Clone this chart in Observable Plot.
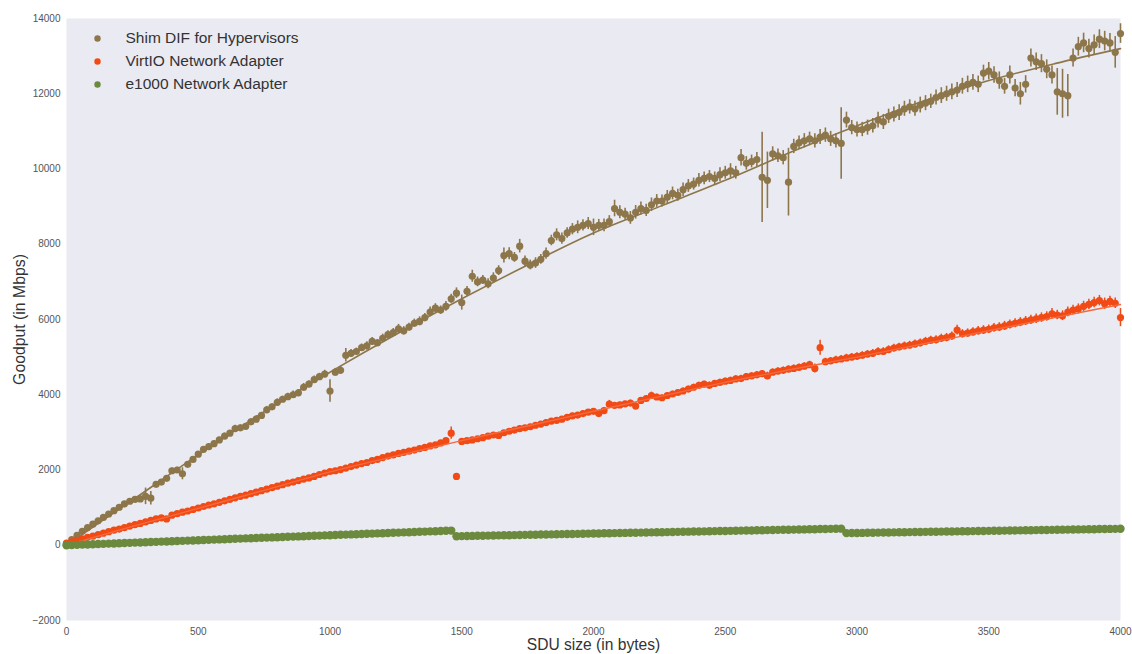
<!DOCTYPE html>
<html>
<head>
<meta charset="utf-8">
<script src="https://cdn.jsdelivr.net/npm/d3@7"></script>
<script src="https://cdn.jsdelivr.net/npm/@observablehq/plot@0.6"></script>
<style>
  html, body { margin: 0; padding: 0; background: #ffffff; }
  #chart svg { display: block; }
</style>
</head>
<body>
<div id="chart"></div>
<script>
// ---------- data ----------
const sduSizes = [
  0,20,40,60,80,100,120,140,160,180,200,220,240,260,280,300,320,340,360,380,
  400,420,440,460,480,500,520,540,560,580,600,620,640,660,680,700,720,740,760,780,
  800,820,840,860,880,900,920,940,960,980,1000,1020,1040,1060,1080,1100,1120,1140,1160,1180,
  1200,1220,1240,1260,1280,1300,1320,1340,1360,1380,1400,1420,1440,1460,1480,1500,1520,1540,1560,1580,
  1600,1620,1640,1660,1680,1700,1720,1740,1760,1780,1800,1820,1840,1860,1880,1900,1920,1940,1960,1980,
  2000,2020,2040,2060,2080,2100,2120,2140,2160,2180,2200,2220,2240,2260,2280,2300,2320,2340,2360,2380,
  2400,2420,2440,2460,2480,2500,2520,2540,2560,2580,2600,2620,2640,2660,2680,2700,2720,2740,2760,2780,
  2800,2820,2840,2860,2880,2900,2920,2940,2960,2980,3000,3020,3040,3060,3080,3100,3120,3140,3160,3180,
  3200,3220,3240,3260,3280,3300,3320,3340,3360,3380,3400,3420,3440,3460,3480,3500,3520,3540,3560,3580,
  3600,3620,3640,3660,3680,3700,3720,3740,3760,3780,3800,3820,3840,3860,3880,3900,3920,3940,3960,3980,
  4000
];

const shimGoodput = [
  40,150,260,370,470,560,650,740,830,920,1010,1100,1170,1220,1230,1300,1250,1620,1680,1780,
  1980,2000,1900,2150,2280,2420,2550,2620,2700,2800,2900,2980,3100,3120,3160,3280,3350,3450,3600,3680,
  3800,3880,3950,4000,4050,4200,4280,4400,4480,4550,4100,4600,4650,5050,5100,5150,5250,5300,5420,5380,
  5500,5600,5650,5750,5700,5800,5900,5950,6050,6200,6300,6250,6350,6550,6700,6450,6750,7150,7000,7050,
  6950,7100,7300,7700,7750,7650,7950,7550,7450,7500,7600,7750,8100,8250,8150,8300,8400,8450,8500,8550,
  8450,8500,8500,8600,8950,8850,8800,8700,8850,8950,8900,9050,9150,9150,9250,9350,9300,9450,9550,9600,
  9700,9750,9800,9750,9850,9900,9950,9900,10300,10150,10200,10250,9780,9700,10400,10350,10300,9650,10600,10700,
  10750,10800,10750,10850,10900,10800,10750,10680,11300,11100,11050,11050,11100,11150,11300,11250,11400,11450,11500,11600,
  11650,11600,11700,11750,11800,11900,11950,12000,12050,12100,12200,12250,12300,12250,12550,12600,12500,12350,12200,12500,
  12150,12000,12250,12950,12850,12800,12650,12500,12050,12000,11950,12950,13250,13350,13200,13300,13450,13400,13350,13100,
  13600
];
const shimError = [
  20,30,30,40,40,40,40,50,50,50,50,50,60,60,80,220,180,60,60,70,
  70,70,160,60,70,70,70,70,80,70,80,70,90,80,70,80,90,80,90,80,
  90,80,90,100,90,100,90,100,90,100,300,100,110,180,100,90,100,110,100,90,
  110,100,110,120,110,100,110,120,110,130,120,110,130,120,140,200,130,160,130,120,
  130,140,130,200,160,130,180,140,130,140,130,150,140,160,150,140,150,170,150,160,
  220,160,170,160,220,170,160,170,180,170,160,180,170,160,180,170,160,180,170,160,
  180,170,160,170,180,170,190,170,220,180,170,190,1200,750,190,180,190,900,190,180,
  190,180,190,200,190,200,190,950,210,190,200,190,200,190,210,200,190,200,210,200,
  190,200,210,200,190,200,210,200,210,200,210,220,210,220,210,230,220,230,210,240,
  230,300,230,240,230,240,250,240,620,650,560,240,250,260,250,260,250,260,250,420,
  260
];

const virtioGoodput = [
  60,90,130,170,210,240,280,320,360,400,430,470,510,550,580,620,660,700,730,700,
  800,840,880,910,950,990,1030,1070,1100,1140,1180,1220,1260,1300,1330,1370,1410,1450,1490,1530,
  1570,1610,1650,1680,1720,1760,1790,1830,1880,1920,1960,1980,2010,2050,2090,2130,2170,2200,2250,2280,
  2330,2370,2400,2440,2470,2500,2530,2570,2600,2640,2670,2720,2780,2980,1830,2760,2780,2800,2830,2860,
  2900,2930,2920,2990,3030,3060,3100,3120,3150,3190,3220,3260,3300,3320,3350,3400,3440,3460,3500,3540,
  3560,3500,3580,3750,3720,3730,3760,3780,3700,3850,3900,3980,3940,3920,3980,4020,4060,4100,4150,4200,
  4250,4280,4250,4300,4330,4360,4380,4420,4430,4480,4500,4530,4560,4500,4600,4630,4650,4680,4700,4730,
  4760,4800,4700,5250,4880,4900,4930,4950,4980,5000,5020,5050,5080,5100,5150,5150,5200,5240,5270,5300,
  5320,5350,5380,5420,5450,5460,5500,5520,5560,5720,5620,5640,5670,5700,5720,5740,5780,5800,5830,5870,
  5900,5930,5960,5990,6020,6050,6080,6150,6120,6100,6200,6250,6280,6350,6400,6450,6500,6420,6480,6430,
  6050
];
const virtioError = [
  10,10,10,15,15,15,15,20,20,20,20,20,20,25,25,25,25,25,25,50,
  25,30,30,30,30,30,30,30,35,35,35,35,35,35,35,40,40,40,40,40,
  40,40,40,40,45,45,45,45,45,45,45,45,50,50,50,50,50,50,50,50,
  50,50,55,55,55,55,55,55,55,60,60,60,60,160,40,60,60,60,60,60,
  60,60,80,60,60,60,60,65,65,65,65,65,65,65,65,70,70,70,70,70,
  70,90,70,100,70,70,70,75,90,75,75,90,75,75,75,75,80,80,80,80,
  80,80,90,80,80,80,85,85,85,85,85,85,85,100,85,90,90,90,90,90,
  90,90,120,200,90,90,90,95,95,95,95,95,95,100,100,100,100,100,100,100,
  100,105,105,105,105,105,110,110,110,130,110,110,110,115,115,115,115,115,120,120,
  120,120,120,125,125,125,125,140,125,130,130,130,135,135,135,140,140,150,140,140,
  240
];

const e1000Goodput = [
  0,5,11,16,21,27,32,37,43,48,53,59,64,69,75,80,85,91,96,101,
  107,112,117,123,128,133,139,144,150,155,160,166,171,176,182,187,192,198,203,208,
  214,219,224,230,235,240,246,251,256,262,267,272,278,283,288,294,299,304,310,315,
  320,326,331,336,342,347,352,358,363,368,374,379,384,390,240,243,245,248,251,254,
  256,259,262,265,267,270,273,276,278,281,284,287,289,292,295,298,300,303,306,309,
  311,314,317,320,322,325,328,331,333,336,339,342,344,347,350,353,355,358,361,364,
  366,369,372,375,377,380,383,386,388,391,394,397,399,402,405,408,410,413,416,419,
  421,424,427,430,432,435,438,441,322,324,326,328,331,333,335,337,340,342,344,346,
  349,351,353,355,358,360,362,364,367,369,371,373,376,378,380,382,385,387,389,391,
  394,396,398,400,403,405,407,409,412,414,416,418,421,423,425,427,430,432,434,436,
  439
];

// fitted trend curves
const fitSizes   = [0,250,500,750,1000,1250,1500,1750,2000,2250,2500,2750,3000,3250,3500,3750,4000];
const shimFit    = [0,1200,2400,3550,4600,5600,6550,7450,8300,9000,9700,10450,11150,11800,12350,12800,13200];
const virtioFit  = [0,500,980,1460,1950,2370,2780,3170,3560,3950,4330,4670,5000,5350,5700,6050,6400];

const seriesNames = ["Shim DIF for Hypervisors", "VirtIO Network Adapter", "e1000 Network Adapter"];
const seriesColors = ["#8c764a", "#f24a14", "#6b8a3e"];

const xTicks = [0,500,1000,1500,2000,2500,3000,3500,4000];
const yTicks = [-2000,0,2000,4000,6000,8000,10000,12000,14000];

// ---------- build tables ----------
function table(ys, errs) {
  return sduSizes.map((x, i) => ({x, y: ys[i], err: errs ? errs[i] : 0}));
}
const shim = table(shimGoodput, shimError);
const virtio = table(virtioGoodput, virtioError);
const e1000 = table(e1000Goodput, null);
const shimFitData = fitSizes.map((x, i) => ({x, y: shimFit[i]}));
const virtioFitData = fitSizes.map((x, i) => ({x, y: virtioFit[i]}));

const font = "'Liberation Sans', Arial, Helvetica, sans-serif";

const legendMarks = seriesNames.flatMap((name, i) => [
  Plot.dot([name], {frameAnchor: "top-left", dx: 31, dy: 20 + i * 23, r: 3.2, fill: seriesColors[i]}),
  Plot.text([name], {frameAnchor: "top-left", dx: 59, dy: 20 + i * 23, text: d => d,
    textAnchor: "start", lineAnchor: "middle", fontSize: 15.5, fill: "#333333"})
]);

const chart = Plot.plot({
  width: 1132,
  height: 654,
  marginLeft: 66,
  marginRight: 12,
  marginTop: 18,
  marginBottom: 34,
  style: {fontFamily: font, fontSize: "10px", color: "#555555", background: "#ffffff"},
  x: {domain: [0, 4000], ticks: xTicks, tickSize: 0, tickPadding: 7, tickFormat: d => String(d), label: null},
  y: {domain: [-2000, 14000], ticks: yTicks, tickSize: 0, tickPadding: 6, tickFormat: d => d < 0 ? "\u2212" + Math.abs(d) : String(d), label: null},
  marks: [
    Plot.frame({fill: "#eaeaf2", stroke: null}),
    // Shim DIF
    Plot.ruleX(shim, {x: "x", y1: d => d.y - d.err, y2: d => d.y + d.err, stroke: seriesColors[0], strokeWidth: 1.6}),
    Plot.dot(shim, {x: "x", y: "y", r: 3.6, fill: seriesColors[0]}),
    Plot.line(shimFitData, {x: "x", y: "y", stroke: seriesColors[0], strokeWidth: 1.6, curve: "monotone-x"}),
    // VirtIO
    Plot.ruleX(virtio, {x: "x", y1: d => d.y - d.err, y2: d => d.y + d.err, stroke: seriesColors[1], strokeWidth: 1.5}),
    Plot.dot(virtio, {x: "x", y: "y", r: 3.6, fill: seriesColors[1]}),
    Plot.line(virtioFitData, {x: "x", y: "y", stroke: "#f36a40", strokeWidth: 1.4, curve: "monotone-x"}),
    // e1000
    Plot.dot(e1000, {x: "x", y: "y", r: 4.2, fill: seriesColors[2]}),
    // legend
    ...legendMarks,
    // axis labels
    Plot.text(["SDU size (in bytes)"], {frameAnchor: "bottom", dy: 29.5, text: d => d, textAnchor: "middle", lineAnchor: "bottom", fontSize: 15.6, fill: "#333333"}),
    Plot.text(["Goodput (in Mbps)"], {frameAnchor: "left", dx: -47, text: d => d, rotate: -90, textAnchor: "middle", lineAnchor: "middle", fontSize: 15.8, fill: "#333333"})
  ]
});
document.getElementById("chart").appendChild(chart);
</script>
</body>
</html>
